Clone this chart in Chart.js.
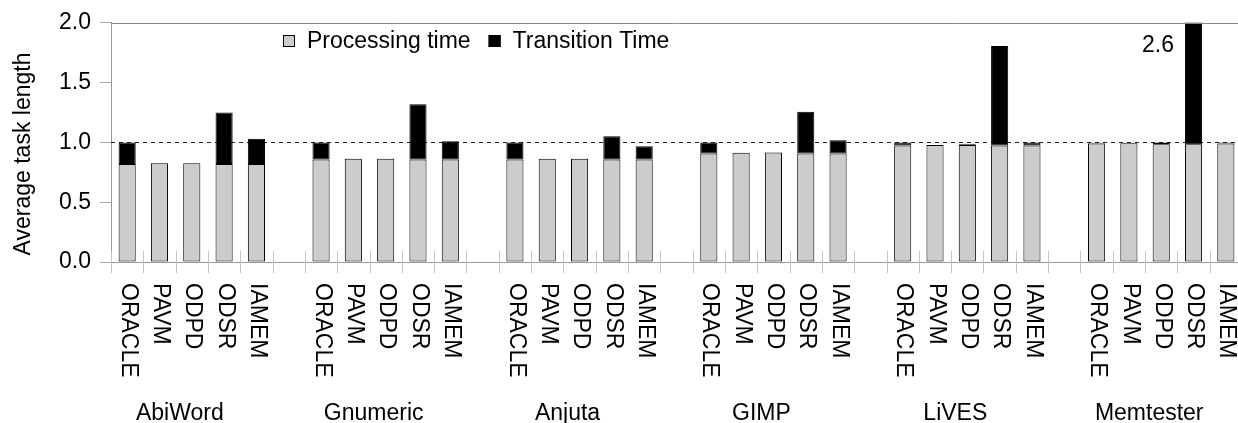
<!doctype html>
<html>

<head>
  <script src="https://cdn.jsdelivr.net/npm/chart.js@4/dist/chart.umd.min.js"></script>
  <style>
    body { margin: 0; overflow: hidden; background: #fff; }
    #wrap { width: 1242px; height: 423px; }
  </style>
</head>

<body>
  <div id="wrap"><canvas id="canvas"></canvas></div>
  <script>
    const groups = ['AbiWord', 'Gnumeric', 'Anjuta', 'GIMP', 'LiVES', 'Memtester'];
    const policies = ['ORACLE', 'PAVM', 'ODPD', 'ODSR', 'IAMEM'];
    // one row per application, one value per policy
    const processingTime = [
      [0.82, 0.825, 0.825, 0.82, 0.82],
      [0.857, 0.863, 0.863, 0.857, 0.857],
      [0.857, 0.863, 0.863, 0.857, 0.857],
      [0.907, 0.913, 0.915, 0.907, 0.907],
      [0.974, 0.979, 0.979, 0.974, 0.974],
      [0.99, 0.992, 0.985, 0.985, 0.99]
    ];
    const transitionTime = [
      [0.18, 0, 0, 0.43, 0.21],
      [0.143, 0, 0, 0.463, 0.153],
      [0.143, 0, 0, 0.194, 0.111],
      [0.093, 0, 0, 0.349, 0.111],
      [0.026, 0, 0.006, 0.832, 0.026],
      [0.008, 0, 0.015, 1.615, 0.01]
    ];
    const yTicks = [0, 0.5, 1.0, 1.5, 2.0];
    const refLine = 1.0;

    const FONT = "'Liberation Sans', Arial, sans-serif";
    Chart.defaults.font.family = FONT;
    Chart.defaults.color = '#000';

    // flatten groups, leaving an empty slot between applications
    const labels = [], proc = [], trans = [];
    groups.forEach((g, gi) => {
      policies.forEach((p, pi) => {
        labels.push(p);
        proc.push(processingTime[gi][pi]);
        trans.push(transitionTime[gi][pi]);
      });
      if (gi < groups.length - 1) {
        labels.push('');
        proc.push(null);
        trans.push(null);
      }
    });

    const overlay = {
      id: 'overlay',
      beforeDatasetsDraw(chart) {
        const { ctx, chartArea: a, scales: { y } } = chart;
        const py = Math.round(y.getPixelForValue(refLine)) + 0.5;
        ctx.save();
        ctx.strokeStyle = '#222';
        ctx.lineWidth = 1;
        ctx.setLineDash([4, 4]);
        ctx.beginPath();
        ctx.moveTo(a.left, py);
        ctx.lineTo(a.right, py);
        ctx.stroke();
        ctx.restore();
      },
      afterDraw(chart) {
        const { ctx, chartArea: a, scales: { x, y } } = chart;
        ctx.save();

        // top border of the plot
        ctx.strokeStyle = '#888';
        ctx.lineWidth = 1;
        ctx.beginPath();
        ctx.moveTo(a.left, Math.round(a.top) + 0.5);
        ctx.lineTo(a.right, Math.round(a.top) + 0.5);
        ctx.stroke();

        // category boundary ticks crossing the x axis
        const n = labels.length;
        const slot = (a.right - a.left) / n;
        ctx.strokeStyle = '#c4c4c4';
        ctx.beginPath();
        for (let i = 0; i <= n; i++) {
          const px = Math.round(a.left + i * slot) + 0.5;
          ctx.moveTo(px, a.bottom - 11);
          ctx.lineTo(px, a.bottom + 11);
        }
        ctx.stroke();

        // policy labels, reading top to bottom
        ctx.fillStyle = '#000';
        ctx.font = '23px ' + FONT;
        ctx.textAlign = 'left';
        ctx.textBaseline = 'middle';
        labels.forEach((lab, i) => {
          if (!lab) return;
          ctx.save();
          ctx.translate(x.getPixelForValue(i) + 1, a.bottom + 21);
          ctx.rotate(Math.PI / 2);
          ctx.fillText(lab, 0, 0);
          ctx.restore();
        });

        // application names under each group
        ctx.font = '23px ' + FONT;
        ctx.textAlign = 'center';
        ctx.textBaseline = 'alphabetic';
        groups.forEach((g, gi) => {
          const mid = gi * (policies.length + 1) + Math.floor(policies.length / 2);
          ctx.fillText(g, x.getPixelForValue(mid) - 12, 420);
        });

        // y axis title
        ctx.save();
        ctx.translate(30, 154);
        ctx.rotate(-Math.PI / 2);
        ctx.font = '23px ' + FONT;
        ctx.textAlign = 'center';
        ctx.fillText('Average task length', 0, 0);
        ctx.restore();

        // value of bars that run off the top
        ctx.font = '23px ' + FONT;
        ctx.textAlign = 'right';
        proc.forEach((v, i) => {
          if (v === null) return;
          const total = v + trans[i];
          if (total > y.max) {
            const bar = chart.getDatasetMeta(1).data[i];
            ctx.fillText(total.toFixed(1), bar.x - bar.width / 2 - 11, a.top + 29);
          }
        });

        // legend inside the plot
        ctx.font = '23px ' + FONT;
        ctx.textAlign = 'left';
        let lx = 283;
        chart.data.datasets.forEach((ds) => {
          ctx.fillStyle = ds.backgroundColor;
          ctx.fillRect(lx, 35, 12, 12);
          ctx.strokeStyle = '#000';
          ctx.strokeRect(lx + 0.5, 35.5, 11, 11);
          lx += 24;
          ctx.fillStyle = '#000';
          ctx.fillText(ds.label, lx, 48);
          lx += ctx.measureText(ds.label).width + 18;
        });

        ctx.restore();
      }
    };

    new Chart(document.getElementById('canvas').getContext('2d'), {
      type: 'bar',
      data: {
        labels: labels,
        datasets: [{
          label: 'Processing time',
          data: proc,
          backgroundColor: '#cccccc',
          borderColor: '#000',
          borderWidth: 1,
          borderSkipped: false
        }, {
          label: 'Transition Time',
          data: trans,
          backgroundColor: '#000',
          borderColor: '#000',
          borderWidth: 1,
          borderSkipped: false
        }]
      },
      options: {
        responsive: true,
        maintainAspectRatio: false,
        animation: false,
        datasets: {
          bar: { categoryPercentage: 1, barPercentage: 0.53 }
        },
        layout: {
          padding: { top: 21, left: 0, right: 0, bottom: 0 }
        },
        scales: {
          x: {
            stacked: true,
            grid: { display: false },
            border: { color: '#999' },
            ticks: { display: false },
            afterFit: (s) => { s.height = 161; }
          },
          y: {
            stacked: true,
            min: 0,
            max: 2,
            afterBuildTicks: (s) => { s.ticks = yTicks.map((v) => ({ value: v })); },
            grid: { drawOnChartArea: false, color: '#aaa', tickLength: 11 },
            border: { color: '#999' },
            ticks: {
              padding: 9,
              font: { size: 23 },
              callback: (v) => Number(v).toFixed(1)
            },
            afterFit: (s) => { s.width = 111; }
          }
        },
        plugins: {
          legend: { display: false },
          tooltip: { enabled: false }
        }
      },
      plugins: [overlay]
    });
  </script>
</body>

</html>
